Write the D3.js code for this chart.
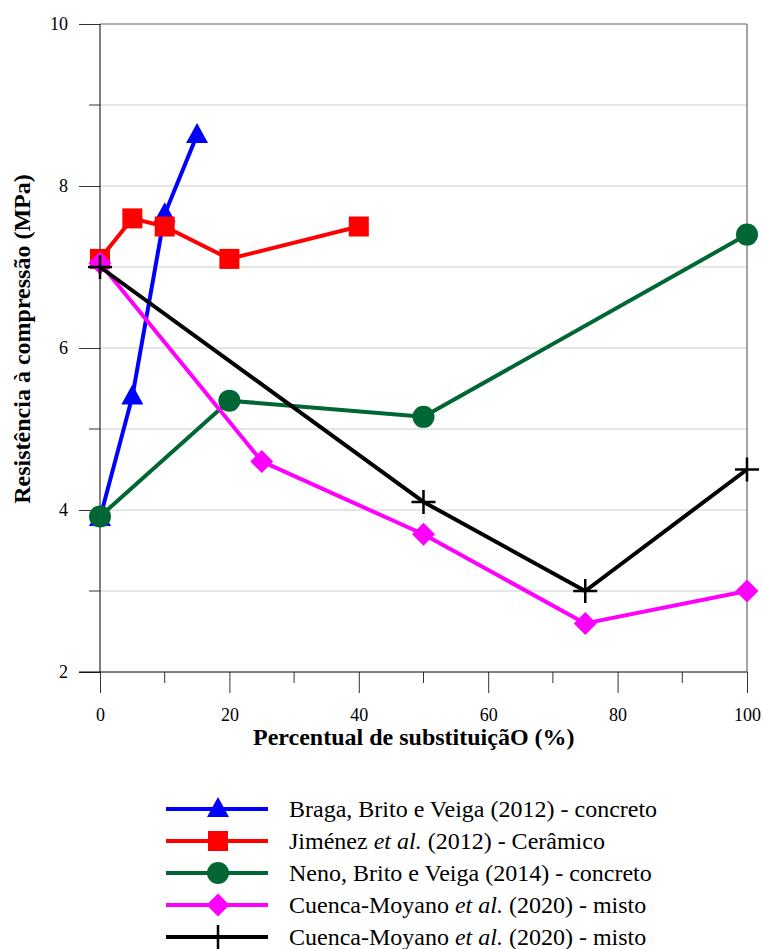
<!DOCTYPE html>
<html>
<head>
<meta charset="utf-8">
<script src="https://cdn.jsdelivr.net/npm/d3@7"></script>
<style>
  body { margin: 0; background: #fff; }
  svg, svg text { font-family: "Liberation Serif", "Times New Roman", Times, serif; }
</style>
</head>
<body>
<div id="chart"></div>
<script>
// series data (x = % substituição, y = MPa)
const bragaX = [0, 5, 10, 15];
const bragaY = [3.9, 5.4, 7.65, 8.63];
const jimenezX = [0, 5, 10, 20, 40];
const jimenezY = [7.1, 7.6, 7.5, 7.1, 7.5];
const nenoX = [0, 20, 50, 100];
const nenoY = [3.92, 5.35, 5.15, 7.4];
const cuencaAX = [0, 25, 50, 75, 100];
const cuencaAY = [7.05, 4.6, 3.7, 2.6, 3.0];
const cuencaBX = [0, 50, 75, 100];
const cuencaBY = [7.0, 4.1, 3.0, 4.5];

const xTicks = [0, 20, 40, 60, 80, 100];
const yTicks = [2, 4, 6, 8, 10];

const series = [
  {name: ["Braga, Brito e Veiga (2012) - concreto"], x: bragaX, y: bragaY, color: "#0000ff", symbol: "triangle"},
  {name: ["Jiménez ", "et al.", " (2012) - Cerâmico"], x: jimenezX, y: jimenezY, color: "#ff0000", symbol: "square"},
  {name: ["Neno, Brito e Veiga (2014) - concreto"], x: nenoX, y: nenoY, color: "#006633", symbol: "circle"},
  {name: ["Cuenca-Moyano ", "et al.", " (2020) - misto"], x: cuencaAX, y: cuencaAY, color: "#ff00ff", symbol: "diamond"},
  {name: ["Cuenca-Moyano ", "et al.", " (2020) - misto"], x: cuencaBX, y: cuencaBY, color: "#000000", symbol: "cross"}
];

const W = 763, H = 949;
const plot = {left: 100, right: 747, top: 24, bottom: 672};
const FONT = "Liberation Serif, Times New Roman, serif";

const svg = d3.select("#chart").append("svg")
  .attr("width", W).attr("height", H);

const x = d3.scaleLinear().domain([0, 100]).range([plot.left, plot.right]);
const y = d3.scaleLinear().domain([2, 10]).range([plot.bottom, plot.top]);

// gridlines
svg.append("g")
  .selectAll("line")
  .data(d3.range(3, 10))
  .join("line")
  .attr("x1", plot.left).attr("x2", plot.right)
  .attr("y1", d => y(d)).attr("y2", d => y(d))
  .attr("stroke", "#cccccc").attr("stroke-width", 1);

// frame top / right
svg.append("line")
  .attr("x1", plot.left).attr("x2", plot.right)
  .attr("y1", plot.top).attr("y2", plot.top)
  .attr("stroke", "#666").attr("stroke-width", 1.2);
svg.append("line")
  .attr("x1", plot.right).attr("x2", plot.right)
  .attr("y1", plot.top).attr("y2", plot.bottom)
  .attr("stroke", "#666").attr("stroke-width", 1.2);

// y axis
const yAxis = d3.axisLeft(y).tickValues(yTicks).tickSize(21).tickPadding(11).tickFormat(d3.format("d"));
const gy = svg.append("g").attr("transform", "translate(" + plot.left + ",0)").call(yAxis);
gy.attr("font-family", FONT).attr("font-size", 18);
gy.select(".domain").remove();
gy.append("line").attr("x1", 0).attr("x2", 0).attr("y1", plot.top).attr("y2", plot.bottom).attr("stroke", "#000");
gy.selectAll(".tick line").attr("stroke", "#333");
gy.selectAll("text").attr("fill", "#000").style("font-size", "18px");
gy.selectAll(".minor")
  .data(d3.range(3, 10, 2))
  .join("line")
  .attr("class", "minor")
  .attr("x1", -11).attr("x2", 0)
  .attr("y1", d => y(d)).attr("y2", d => y(d))
  .attr("stroke", "#333");

// x axis
const xAxis = d3.axisBottom(x).tickValues(xTicks).tickSize(21).tickPadding(15).tickFormat(d3.format("d"));
const gx = svg.append("g").attr("transform", "translate(0," + plot.bottom + ")").call(xAxis);
gx.attr("font-family", FONT).attr("font-size", 18);
gx.select(".domain").remove();
gx.append("line").attr("x1", plot.left - 21).attr("x2", plot.right).attr("y1", 0).attr("y2", 0).attr("stroke", "#000");
gx.selectAll(".tick line").attr("stroke", "#333");
gx.selectAll("text").attr("fill", "#000").style("font-size", "18px");
gx.selectAll(".minor")
  .data(d3.range(10, 100, 20))
  .join("line")
  .attr("class", "minor")
  .attr("y1", 0).attr("y2", 11)
  .attr("x1", d => x(d)).attr("x2", d => x(d))
  .attr("stroke", "#333");

// axis titles
svg.append("text")
  .attr("x", 253)
  .attr("y", 745)
  .style("font-size", "24px").style("font-weight", "bold")
  .text("Percentual de substituiçãO (%)");

svg.append("text")
  .attr("transform", "translate(30,339) rotate(-90)")
  .attr("text-anchor", "middle")
  .style("font-size", "24px").style("font-weight", "bold")
  .text("Resistência à compressão (MPa)");

function drawSymbol(g, sym, color) {
  if (sym === "triangle") {
    g.append("path").attr("d", "M0,-12 L11,8 L-11,8 Z").attr("fill", color);
  } else if (sym === "square") {
    g.append("rect").attr("x", -10).attr("y", -10).attr("width", 20).attr("height", 20).attr("fill", color);
  } else if (sym === "circle") {
    g.append("circle").attr("r", 11).attr("fill", color);
  } else if (sym === "diamond") {
    g.append("path").attr("d", "M0,-11.5 L11.5,0 L0,11.5 L-11.5,0 Z").attr("fill", color);
  } else if (sym === "cross") {
    g.append("path").attr("d", "M-12,0 H12 M0,-12 V12").attr("stroke", color).attr("stroke-width", 2.5);
  }
}

const line = d3.line().x(d => x(d[0])).y(d => y(d[1]));

series.forEach(s => {
  const pts = s.x.map((v, i) => [v, s.y[i]]);
  const g = svg.append("g");
  g.append("path")
    .datum(pts)
    .attr("d", line)
    .attr("fill", "none")
    .attr("stroke", s.color)
    .attr("stroke-width", 4)
    .attr("stroke-linejoin", "round");
  pts.forEach(p => {
    const m = g.append("g").attr("transform", "translate(" + x(p[0]) + "," + y(p[1]) + ")");
    drawSymbol(m, s.symbol, s.color);
  });
});

// legend
const legendY = [809, 841, 873, 905, 937];
const legend = svg.append("g");
series.forEach((s, i) => {
  const row = legend.append("g").attr("transform", "translate(0," + legendY[i] + ")");
  row.append("line").attr("x1", 166).attr("x2", 268).attr("y1", 0).attr("y2", 0)
    .attr("stroke", s.color).attr("stroke-width", 4);
  const m = row.append("g").attr("transform", "translate(218,0)");
  drawSymbol(m, s.symbol, s.color);
  const t = row.append("text").attr("x", 289).attr("y", 8).style("font-size", "24px");
  s.name.forEach(part => {
    const ts = t.append("tspan").text(part);
    if (part === "et al.") ts.style("font-style", "italic");
  });
});
</script>
</body>
</html>
